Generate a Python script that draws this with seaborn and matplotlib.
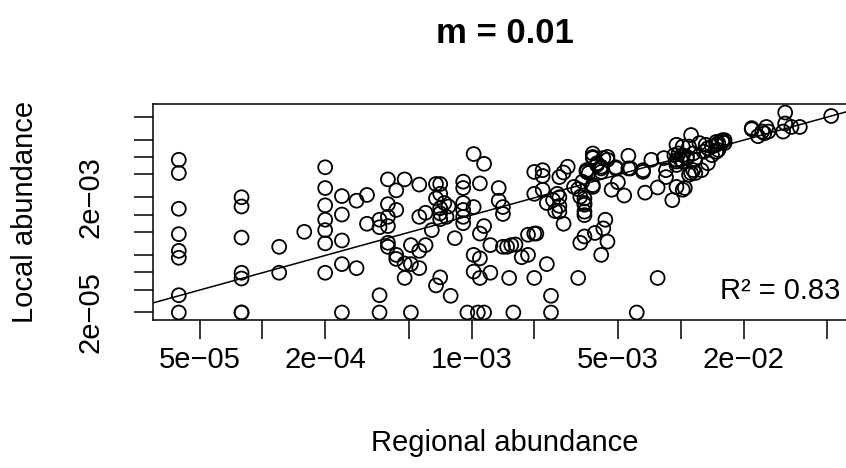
import numpy as np
import pandas as pd
import matplotlib
matplotlib.use("Agg")
import matplotlib.pyplot as plt
import seaborn as sns
from matplotlib.ticker import NullLocator

# log10 regional abundance of each column of points, and log10 local abundance of the points in it
regional_cols = [
    -4.40, -4.10, -3.92, -3.80, -3.70, -3.62, -3.55, -3.50, -3.44, -3.40,
    -3.36, -3.32, -3.29, -3.25, -3.22, -3.19, -3.17, -3.15, -3.13, -3.12,
    -3.11, -3.10, -3.08, -3.04, -3.02, -2.99, -2.97, -2.96, -2.94, -2.91,
    -2.87, -2.85, -2.83, -2.82, -2.81, -2.80, -2.79, -2.76, -2.73, -2.70,
    -2.69, -2.66, -2.64, -2.62, -2.61, -2.60, -2.59, -2.58, -2.56, -2.54,
    -2.51, -2.49, -2.48, -2.47, -2.46, -2.45, -2.44, -2.42, -2.41, -2.40,
    -2.38, -2.37, -2.36, -2.35, -2.33, -2.31, -2.30, -2.27, -2.25, -2.24,
    -2.21, -2.18, -2.17, -2.14, -2.11, -2.08, -2.07, -2.04, -2.03, -2.02,
    -2.01, -2.00, -1.99, -1.98, -1.97, -1.96, -1.95, -1.94, -1.93, -1.91,
    -1.90, -1.89, -1.88, -1.87, -1.85, -1.83, -1.82, -1.80, -1.79, -1.66,
    -1.63, -1.61, -1.60, -1.59, -1.58, -1.51, -1.50, -1.47, -1.43, -1.28,
]
local_cols = [
    [-2.05, -2.28, -2.90, -3.34, -3.63, -3.75, -4.40, -4.70],
    [-2.70, -2.86, -3.40, -4.01, -4.11, -4.70, -4.70],
    [-3.56, -4.01], [-3.30],
    [-2.18, -2.54, -2.84, -3.09, -3.27, -3.50, -4.01],
    [-2.68, -3.00, -3.45, -3.86, -4.70],
    [-2.76, -3.93], [-2.66, -3.16],
    [-3.09, -3.22, -4.40, -4.70],
    [-2.39, -2.82, -3.04, -3.20, -3.49, -3.56],
    [-2.58, -2.92, -3.70, -3.77],
    [-2.39, -3.85, -4.10], [-3.53, -3.86, -4.70],
    [-2.48, -3.04, -3.63, -3.93], [-2.97, -3.53], [-3.27],
    [-2.47, -2.72, -4.23],
    [-2.47, -2.64, -2.89, -2.98, -3.08, -4.09],
    [-2.80], [-3.04], [-2.86], [-4.41], [-3.41],
    [-2.43, -2.54, -2.80, -2.92, -3.04, -3.15],
    [-4.70], [-1.95, -2.87, -3.70, -3.99], [-4.70],
    [-2.46, -3.33, -3.76, -4.10], [-2.12, -3.20, -4.70], [-3.53, -4.01],
    [-2.54, -2.76], [-2.87, -2.99, -3.56], [-3.56], [-4.10], [-3.53],
    [-4.70], [-3.52], [-3.74], [-3.35, -3.70], [-2.26, -2.64, -3.33, -4.10],
    [-3.33], [-2.23, -2.33, -2.57], [-2.80, -3.86], [-4.41, -4.70],
    [-2.75], [-2.94], [-2.64], [-2.35, -2.70, -2.85, -2.95], [-2.27, -3.16],
    [-2.17], [-2.52], [-2.56, -4.10], [-2.69, -3.49], [-2.43],
    [-2.72, -2.80, -2.83, -2.95, -3.01, -3.38], [-2.23, -2.26], [-2.28],
    [-1.94, -2.00, -2.02, -2.49, -2.52], [-3.32], [-2.11, -2.14],
    [-2.17, -2.20, -2.26, -3.70], [-2.02, -3.24], [-3.09],
    [-2.00, -2.05, -3.47], [-2.57], [-2.18, -2.20], [-2.44], [-2.67],
    [-1.98, -2.20], [-2.20], [-4.70], [-2.23, -2.26], [-2.62], [-2.05],
    [-2.53, -4.10], [-2.02], [-2.23, -2.35], [-2.75], [-1.97],
    [-1.79, -2.05, -2.08, -2.14, -2.52], [-1.94], [-2.05],
    [-1.82, -1.97, -2.08, -2.57], [-2.54], [-2.00, -2.02], [-1.82, -2.31],
    [-1.62, -2.28], [-1.94, -2.23], [-2.05, -2.28], [-1.76], [-2.23],
    [-1.91], [-1.79], [-1.85, -2.11], [-1.82, -1.97], [-1.74, -1.79, -1.91],
    [-1.76, -1.88], [-1.71, -1.74], [-1.71, -1.76], [-1.50, -1.52],
    [-1.64], [-1.56], [-1.59], [-1.48], [-1.56], [-1.56], [-1.23, -1.42],
    [-1.48], [-1.48], [-1.29],
]

# log-log regression line and its R^2
fit_intercept = -0.01
fit_slope = 1.0
r_squared = 0.83

x_ticks = [5e-5, 1e-4, 2e-4, 5e-4, 1e-3, 2e-3, 5e-3, 1e-2, 2e-2, 5e-2]
x_labels = ["5e\u221205", "", "2e\u221204", "", "1e\u221203", "", "5e\u221203", "", "2e\u221202", ""]
y_ticks = [2e-5, 5e-5, 1e-4, 2e-4, 5e-4, 1e-3, 2e-3, 5e-3, 1e-2, 2e-2, 5e-2]
y_labels = ["2e\u221205", "", "", "", "", "", "2e\u221203", "", "", "", ""]

sns.set_theme(style="ticks")
plt.rcParams["font.family"] = ["Liberation Sans", "DejaVu Sans"]
plt.rcParams["text.color"] = "black"
plt.rcParams["axes.labelcolor"] = "black"

df = pd.DataFrame({
    "regional": 10 ** np.repeat(regional_cols, [len(c) for c in local_cols]),
    "local": 10 ** np.concatenate(local_cols),
})

W, H = 846, 468
fig = plt.figure(figsize=(W / 100, H / 100), dpi=100)
# plot box: x 153..857 px (right edge cut off), y 104..320 px
ax = fig.add_axes([153.3 / W, 1 - 320 / H, (856.7 - 153.3) / W, (320 - 104.3) / H])
ax.set_xscale("log")
ax.set_yscale("log")

sns.scatterplot(data=df, x="regional", y="local", marker="o", s=100,
                facecolors="none", edgecolor="black", linewidth=1.3,
                legend=False, ax=ax)

ax.set_xlim(10 ** -4.522, 10 ** -1.158)
ax.set_ylim(10 ** -4.83, 10 ** -1.087)

xs = np.array(ax.get_xlim())
ax.plot(xs, 10 ** (fit_intercept + fit_slope * np.log10(xs)), color="black", lw=1.1)

ax.set_xticks(x_ticks)
ax.set_xticklabels(x_labels)
ax.set_yticks(y_ticks)
ax.set_yticklabels(y_labels, rotation=90, va="center")
ax.xaxis.set_minor_locator(NullLocator())
ax.yaxis.set_minor_locator(NullLocator())
ax.tick_params(axis="both", length=14, width=1.1, color="black", labelsize=21, labelcolor="black")
ax.tick_params(axis="x", pad=5)
ax.tick_params(axis="y", pad=21)

for sp in ax.spines.values():
    sp.set_color("black")
    sp.set_linewidth(1.1)

ax.set_xlabel("Regional abundance", fontsize=21, color="black")
ax.set_ylabel("Local abundance", fontsize=21, color="black")
ax.xaxis.set_label_coords((505 - 153.3) / (856.7 - 153.3), -(451 - 320) / (320 - 104.3))
ax.xaxis.label.set_va("baseline")
ax.yaxis.set_label_coords(-(153.3 - 33.3) / (856.7 - 153.3), 0.5)
ax.yaxis.label.set_va("baseline")

ax.text((840 - 153.3) / (856.7 - 153.3), (320 - 299.3) / (320 - 104.3),
        f"R\u00b2 = {r_squared:.2f}", transform=ax.transAxes,
        ha="right", va="baseline", fontsize=21, color="black")

fig.text(505 / W, 1 - 43 / H, "m = 0.01", ha="center", va="baseline",
         fontsize=25, fontweight="bold", color="black")

fig.savefig("out.png", dpi=100)
